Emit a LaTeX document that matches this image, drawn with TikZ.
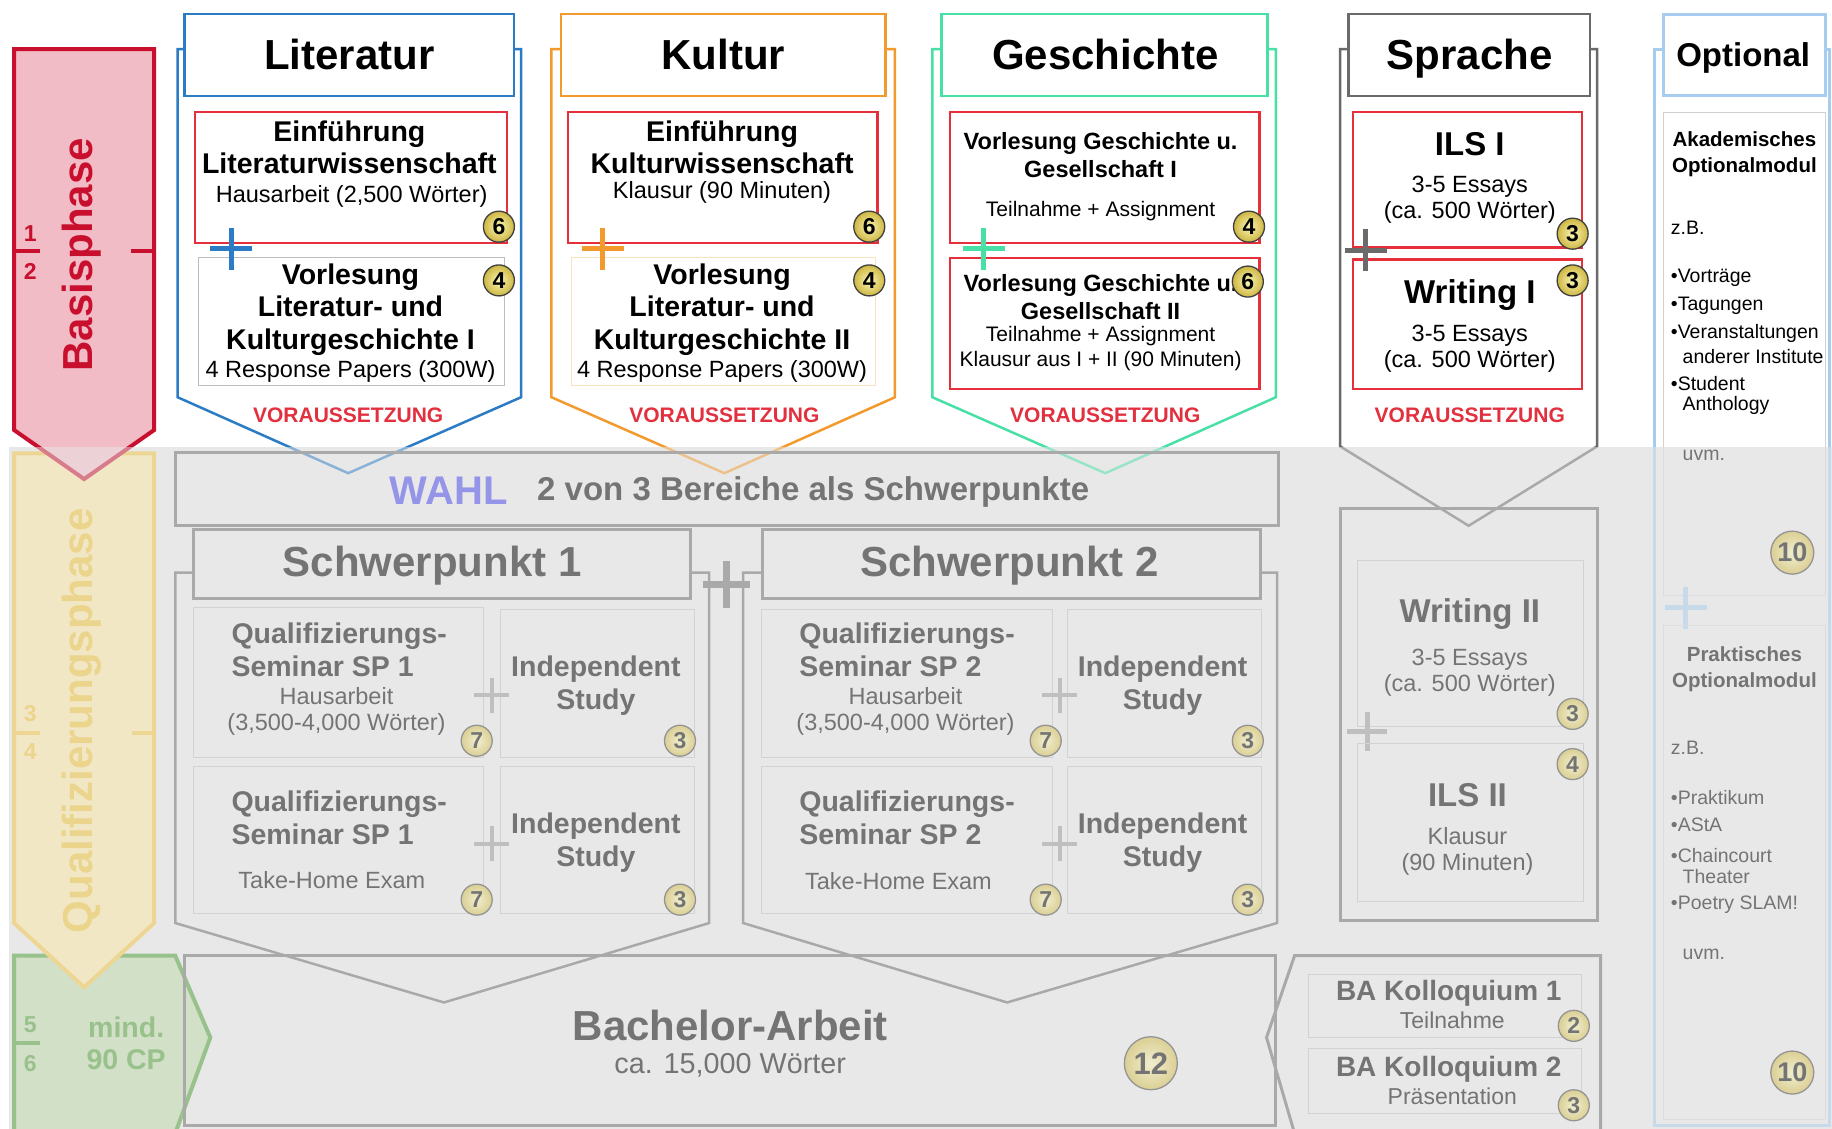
\documentclass[tikz,border=0pt]{standalone}
\usepackage{fontspec}
\setmainfont{Liberation Sans}
\usetikzlibrary{calc}
\newcommand\fsz[2]{\fontsize{#1}{#2}\selectfont}
\definecolor{basred}{HTML}{C8102E}
\definecolor{baspink}{HTML}{F2BCC6}
\definecolor{litblue}{HTML}{2B7CC4}
\definecolor{kulorange}{HTML}{F39A2E}
\definecolor{gesgreen}{HTML}{48E0A4}
\definecolor{spgray}{HTML}{6A6A6A}
\definecolor{optblue}{HTML}{A6CDEE}
\definecolor{boxred}{HTML}{E5303C}
\definecolor{thingray}{HTML}{BDBDBD}
\definecolor{qualyellow}{HTML}{F4C440}
\definecolor{qualtext}{HTML}{F0C030}
\definecolor{qualfill}{HTML}{FCE7A2}
\definecolor{bagreen}{HTML}{4A9A30}
\definecolor{bafill}{HTML}{BCD9A6}
\definecolor{lowbg}{HTML}{EAEAEA}
\definecolor{veil}{HTML}{E8E8E8}
\definecolor{wahlblue}{HTML}{4040E8}
\definecolor{badgein}{HTML}{FBF6B8}
\definecolor{badgeout}{HTML}{CDB640}
\definecolor{vorred}{HTML}{E2303E}
\begin{document}
\begin{tikzpicture}[x=1.1684pt,y=-1.1684pt,
  ttl/.style={font=\fsz{42}{48}\bfseries, inner sep=0pt, text height=30pt, text depth=0pt},
  bt/.style={font=\fsz{28.5}{32.7}\bfseries, align=center, inner sep=0pt},
  btl/.style={font=\fsz{28.5}{32.7}\bfseries, align=left, inner sep=0pt, anchor=west},
  gt/.style={font=\fsz{23.5}{28}\bfseries, align=center, inner sep=0pt},
  nt/.style={font=\fsz{23.5}{25.7}, align=center, inner sep=0pt},
  st/.style={font=\fsz{21}{24.5}, align=center, inner sep=0pt},
  ht/.style={font=\fsz{33}{38}\bfseries, inner sep=0pt, text height=23.6pt, text depth=0pt},
  ot/.style={font=\fsz{20.5}{25.7}\bfseries, align=center, inner sep=0pt},
  lt/.style={font=\fsz{19.5}{22}, anchor=west, inner sep=0pt},
  vor/.style={font=\fsz{21}{24}\bfseries, text=vorred, inner sep=0pt},
  kt/.style={font=\fsz{28}{32}\bfseries, inner sep=0pt, text height=20pt, text depth=0pt},
  badge/.style={circle, draw=black!75, line width=1.3pt, inner sep=0pt, minimum size=31pt, inner color=badgein, outer color=badgeout, font=\fsz{23}{26}\bfseries},
  bigbadge/.style={badge, minimum size=43pt, font=\fsz{27}{30}\bfseries},
  hugebadge/.style={badge, minimum size=53pt, font=\fsz{31}{34}\bfseries},
  redbox/.style={draw=boxred, line width=2.5pt},
  thinbox/.style={draw=thingray, line width=1pt},
  graybox/.style={draw=spgray, line width=3pt},
  pics/plusmark/.style={code={\draw (-#1,0) -- (#1,0) (0,-#1) -- (0,#1);}}
]
\useasboundingbox (0,0) rectangle (1568,966);
\fill[white] (0,0) rectangle (1568,966);
\fill[lowbg] (8,383) rectangle (1568,966);

% ---------- phase arrows ----------
\draw[bagreen, fill=bafill, line width=4pt] (12,818) -- (150,818) -- (180,888) -- (150,970) -- (12,970) -- cycle;
\draw[qualyellow, fill=qualfill, line width=4pt] (12,388) -- (132,388) -- (132,790) -- (72,845) -- (12,790) -- cycle;
\draw[basred, fill=baspink, line width=4pt] (12,42) -- (132,42) -- (132,368) -- (72,410) -- (12,368) -- cycle;

\node[rotate=90, font=\fsz{42}{48}\bfseries, text=basred, inner sep=0pt] (basis) at (70,218) {Basisphase};
\node[font=\fsz{23}{26}\bfseries, text=basred, inner sep=0pt] (sem1) at (26,200) {1};
\node[font=\fsz{23}{26}\bfseries, text=basred, inner sep=0pt] (sem2) at (26,232) {2};
\draw[basred, line width=4pt] (14,215) -- (34,215) (112,215) -- (131,215);

\node[rotate=90, font=\fsz{42}{48}\bfseries, text=qualtext, inner sep=0pt] (qual) at (70,617) {Qualifizierungsphase};
\node[font=\fsz{23}{26}\bfseries, text=qualtext, inner sep=0pt] (sem3) at (26,611) {3};
\node[font=\fsz{23}{26}\bfseries, text=qualtext, inner sep=0pt] (sem4) at (26,643) {4};
\draw[qualyellow, line width=4pt] (14,627) -- (34,627) (113,627) -- (131,627);

\node[font=\fsz{23}{26}\bfseries, text=bagreen, inner sep=0pt] (sem5) at (26,877) {5};
\node[font=\fsz{23}{26}\bfseries, text=bagreen, inner sep=0pt] (sem6) at (26,910) {6};
\draw[bagreen, line width=4pt] (14,893) -- (34,893);
\node[font=\fsz{28.5}{31.5}\bfseries, text=bagreen, align=center, inner sep=0pt] (mind) at (108,893) {mind.\\90 CP};

% ---------- Literatur ----------
\draw[litblue, line width=2.5pt] (152,42) -- (446,42) -- (446,340) -- (298,405) -- (152,340) -- cycle;
\draw[litblue, line width=2.5pt, fill=white] (158,12) rectangle (440,82);
\node[ttl] (tlit) at (299,47) {Literatur};
\draw[redbox] (167,96) rectangle (434,208);
\node[bt] (lit1) at (299,126) {Einführung\\Literaturwissenschaft};
\node[nt] (lit1d) at (301,168) {Hausarbeit (2,500 Wörter)};
\draw[thinbox] (170,220) rectangle (432,330);
\node[bt] (lit2) at (300,265) {Vorlesung\\Literatur- und\\Kulturgeschichte I};
\node[nt] (lit2d) at (300,318) {4 Response Papers (300W)};
\pic[color=litblue, line width=5pt] at (198,213) {plusmark=18};
\node[badge] (blit1) at (427,194) {6};
\node[badge] (blit2) at (427,240) {4};
\node[vor] (vlit) at (298,355) {VORAUSSETZUNG};

% ---------- Kultur ----------
\draw[kulorange, line width=2.5pt] (472,42) -- (766,42) -- (766,340) -- (620,405) -- (472,340) -- cycle;
\draw[kulorange, line width=2.5pt, fill=white] (480,12) rectangle (758,82);
\node[ttl] (tkul) at (619,47) {Kultur};
\draw[redbox] (486,96) rectangle (751,208);
\node[bt] (kul1) at (618,126) {Einführung\\Kulturwissenschaft};
\node[nt] (kul1d) at (618,165) {Klausur (90 Minuten)};
\draw[draw=kulorange!30, line width=1pt] (489,220) rectangle (749,330);
\node[bt] (kul2) at (618,265) {Vorlesung\\Literatur- und\\Kulturgeschichte II};
\node[nt] (kul2d) at (618,318) {4 Response Papers (300W)};
\pic[color=kulorange, line width=5pt] at (516,213) {plusmark=18};
\node[badge] (bkul1) at (744,194) {6};
\node[badge] (bkul2) at (744,240) {4};
\node[vor] (vkul) at (620,355) {VORAUSSETZUNG};

% ---------- Geschichte ----------
\draw[gesgreen, line width=2.5pt] (798,42) -- (1092,42) -- (1092,340) -- (946,405) -- (798,340) -- cycle;
\draw[gesgreen, line width=2.5pt, fill=white] (806,12) rectangle (1085,82);
\node[ttl] (tges) at (946,47) {Geschichte};
\draw[redbox] (813,96) rectangle (1078,208);
\node[gt] (ges1) at (942,133) {Vorlesung Geschichte u.\\Gesellschaft I};
\node[st] (ges1d) at (942,181) {Teilnahme + Assignment};
\draw[redbox] (813,221) rectangle (1078,333);
\node[gt] (ges2) at (942,254.5) {Vorlesung Geschichte u.\\Gesellschaft II};
\node[st] (ges2d) at (942,298.5) {Teilnahme + Assignment\\Klausur aus I + II (90 Minuten)};
\pic[color=gesgreen, line width=5pt] at (842,213) {plusmark=18};
\node[badge] (bges1) at (1069,194) {4};
\node[badge] (bges2) at (1068,241) {6};
\node[vor] (vges) at (946,355) {VORAUSSETZUNG};

% ---------- Sprache ----------
\draw[spgray, line width=2.5pt] (1147,42) -- (1367,42) -- (1367,382) -- (1257,450) -- (1147,382) -- cycle;
\draw[spgray, line width=2.5pt, fill=white] (1154,12) rectangle (1361,82);
\node[ttl] (tspr) at (1258,47) {Sprache};
\draw[redbox] (1158,96) rectangle (1354,212);
\node[ht] (ils1) at (1258,123) {ILS I};
\node[nt] (ils1d) at (1258,171) {3-5 Essays\\(ca. 500 Wörter)};
\draw[redbox] (1158,222) rectangle (1354,333);
\node[ht] (wri1) at (1258,250) {Writing I};
\node[nt] (wri1d) at (1258,298.5) {3-5 Essays\\(ca. 500 Wörter)};
\pic[color=spgray, line width=5pt] at (1169,214) {plusmark=18};
\node[badge] (bspr1) at (1346,200) {3};
\node[badge] (bspr2) at (1346,240) {3};
\node[vor] (vspr) at (1258,355) {VORAUSSETZUNG};

% ---------- Optional ----------
\draw[optblue, line width=3pt] (1424,42) -- (1416,42) -- (1416,963) -- (1566,963) -- (1566,42) -- (1562,42);
\draw[optblue, line width=3pt, fill=white] (1424,12) rectangle (1562,82);
\node[font=\fsz{33}{38}\bfseries, inner sep=0pt, text height=23.6pt, text depth=0pt] (topt) at (1492,47) {Optional};
\draw[thinbox, draw=thingray!70] (1424,96) rectangle (1562,510);
\node[ot] (akad) at (1493,132) {Akademisches\\Optionalmodul};
\node[lt] (zb1) at (1430,195) {z.B.};
\node[lt] (o1) at (1430,238) {•Vorträge};
\node[lt] (o2) at (1430,262) {•Tagungen};
\node[lt] (o3) at (1430,285) {•Veranstaltungen};
\node[lt] (o3b) at (1440,305) {anderer Institute};
\node[lt] (o4) at (1430,328) {•Student};
\node[lt] (o4b) at (1440,347) {Anthology};
\node[lt] (uvm1) at (1440,390) {uvm.};
\node[bigbadge] (bopt1) at (1534,473) {10};
\pic[color=optblue, line width=5pt] at (1443,520) {plusmark=18};
\draw[thinbox, draw=thingray!70] (1424,535) rectangle (1562,958);
\node[ot] (prak) at (1493,572.5) {Praktisches\\Optionalmodul};
\node[lt] (zb2) at (1430,640) {z.B.};
\node[lt] (p1) at (1430,683) {•Praktikum};
\node[lt] (p2) at (1430,706) {•AStA};
\node[lt] (p3) at (1430,732) {•Chaincourt};
\node[lt] (p3b) at (1440,750) {Theater};
\node[lt] (p4) at (1430,774) {•Poetry SLAM!};
\node[lt] (uvm2) at (1440,817) {uvm.};
\node[bigbadge] (bopt2) at (1534,918) {10};

% ---------- WAHL ----------
\draw[graybox] (150,387) rectangle (1094,450);
\node[font=\fsz{40}{46}\bfseries, text=wahlblue, inner sep=0pt] (wahl) at (384,420) {WAHL};
\node[font=\fsz{33}{38}\bfseries, inner sep=0pt] (wahlt) at (696,421) {2 von 3 Bereiche als Schwerpunkte};

% ---------- Bachelor ----------
\draw[graybox] (158,818) rectangle (1092,963);
\node[font=\fsz{42}{48}\bfseries, inner sep=0pt] (ba) at (625,878) {Bachelor-Arbeit};
\node[font=\fsz{28.8}{33}, inner sep=0pt] (bad) at (625,912) {ca. 15,000 Wörter};
\node[hugebadge] (bba) at (985,910) {12};

% ---------- Schwerpunkt 1 ----------
\draw[spgray, line width=2.5pt] (150,490) -- (607,490) -- (607,790) -- (380,858) -- (150,790) -- cycle;
\draw[graybox, fill=lowbg] (166,453) rectangle (591,512);
\node[ttl] (sp1) at (370,481) {Schwerpunkt 1};
\draw[thinbox] (166,520) rectangle (414,648);
\node[btl] (q11) at (198,556) {Qualifizierungs-\\Seminar SP 1};
\node[nt] (q11d) at (288,609) {Hausarbeit\\(3,500-4,000 Wörter)};
\draw[thinbox] (428,522) rectangle (594,648);
\node[bt] (i11) at (510,587) {Independent\\Study};
\pic[color=spgray!70, line width=4pt] at (421,595) {plusmark=15};
\node[badge] (bq11) at (408,634) {7};
\node[badge] (bi11) at (582,634) {3};
\draw[thinbox] (166,656) rectangle (414,782);
\node[btl] (q12) at (198,700) {Qualifizierungs-\\Seminar SP 1};
\node[nt] (q12d) at (284,753) {Take-Home Exam};
\draw[thinbox] (428,656) rectangle (594,782);
\node[bt] (i12) at (510,721) {Independent\\Study};
\pic[color=spgray!70, line width=4pt] at (421,722) {plusmark=15};
\node[badge] (bq12) at (408,770) {7};
\node[badge] (bi12) at (582,770) {3};

\pic[color=spgray, line width=7pt] at (622,500) {plusmark=20};

% ---------- Schwerpunkt 2 ----------
\draw[spgray, line width=2.5pt] (636,490) -- (1093,490) -- (1093,790) -- (862,858) -- (636,790) -- cycle;
\draw[graybox, fill=lowbg] (653,453) rectangle (1079,512);
\node[ttl] (sp2) at (864,481) {Schwerpunkt 2};
\draw[thinbox] (652,522) rectangle (901,648);
\node[btl] (q21) at (684,556) {Qualifizierungs-\\Seminar SP 2};
\node[nt] (q21d) at (775,609) {Hausarbeit\\(3,500-4,000 Wörter)};
\draw[thinbox] (914,522) rectangle (1080,648);
\node[bt] (i21) at (995,587) {Independent\\Study};
\pic[color=spgray!70, line width=4pt] at (907,595) {plusmark=15};
\node[badge] (bq21) at (895,634) {7};
\node[badge] (bi21) at (1068,634) {3};
\draw[thinbox] (652,656) rectangle (901,782);
\node[btl] (q22) at (684,700) {Qualifizierungs-\\Seminar SP 2};
\node[nt] (q22d) at (769,754) {Take-Home Exam};
\draw[thinbox] (914,656) rectangle (1080,782);
\node[bt] (i22) at (995,721) {Independent\\Study};
\pic[color=spgray!70, line width=4pt] at (907,722) {plusmark=15};
\node[badge] (bq22) at (895,770) {7};
\node[badge] (bi22) at (1068,770) {3};

% ---------- Sprache lower ----------
\draw[graybox] (1147,435) rectangle (1367,788);
\draw[thinbox] (1162,480) rectangle (1355,622);
\node[ht] (wri2) at (1258,523) {Writing II};
\node[nt] (wri2d) at (1258,576) {3-5 Essays\\(ca. 500 Wörter)};
\node[badge] (bwri2) at (1346,611) {3};
\pic[color=spgray!70, line width=5pt] at (1170,626) {plusmark=17};
\draw[thinbox] (1162,636) rectangle (1355,772);
\node[badge] (bils2) at (1346,654) {4};
\node[ht] (ils2) at (1256,680) {ILS II};
\node[nt] (ils2d) at (1256,729) {Klausur\\(90 Minuten)};

% ---------- BA Kolloquium ----------
\draw[graybox] (1108,818) -- (1370,818) -- (1370,970) -- (1108,970) -- (1084,888) -- cycle;
\draw[thinbox] (1120,834) rectangle (1354,888);
\node[kt] (k1) at (1240,848) {BA Kolloquium 1};
\node[font=\fsz{23}{26}, inner sep=0pt] (k1d) at (1243,873) {Teilnahme};
\node[badge] (bk1) at (1347,878) {2};
\draw[thinbox] (1120,897) rectangle (1354,953);
\node[kt] (k2) at (1240,913) {BA Kolloquium 2};
\node[font=\fsz{23}{26}, inner sep=0pt] (k2d) at (1243,938) {Präsentation};
\node[badge] (bk2) at (1347,946) {3};

% ---------- veil over the lower part ----------
\fill[veil, opacity=0.5] (8,383) rectangle (1568,966);
\end{tikzpicture}
\end{document}
